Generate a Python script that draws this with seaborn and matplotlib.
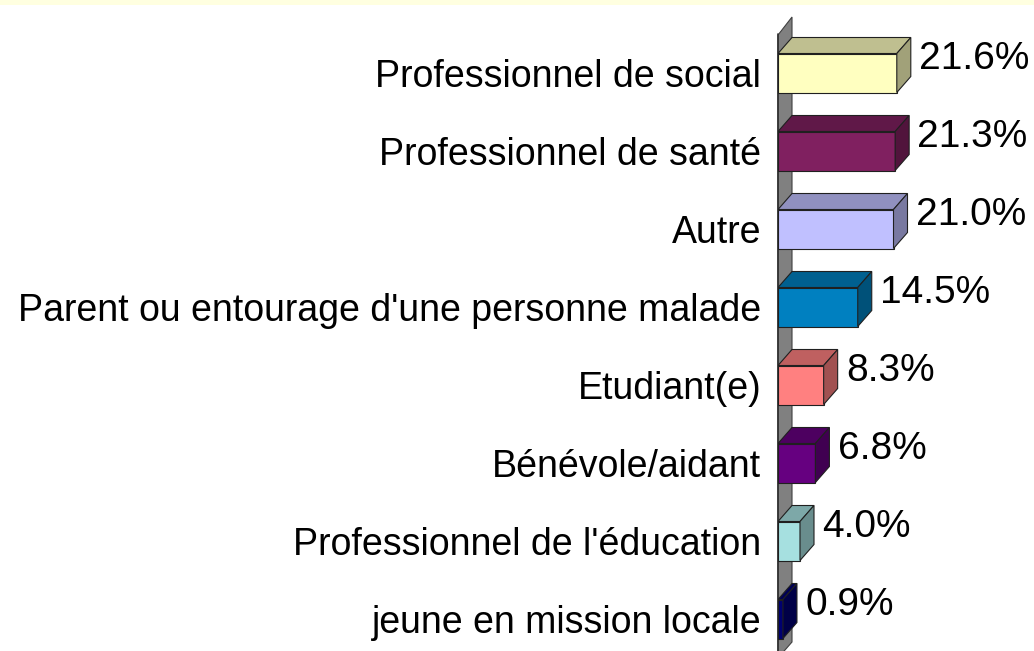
import matplotlib
matplotlib.use("Agg")
import matplotlib.pyplot as plt
from matplotlib.patches import Polygon, Rectangle
from matplotlib.colors import to_rgb
import seaborn as sns
import pandas as pd

categories = [
    "Professionnel de social",
    "Professionnel de santé",
    "Autre",
    "Parent ou entourage d'une personne malade",
    "Etudiant(e)",
    "Bénévole/aidant",
    "Professionnel de l'éducation",
    "jeune en mission locale",
]
values = [21.6, 21.3, 21.0, 14.5, 8.3, 6.8, 4.0, 0.9]
value_labels = ["21.6%", "21.3%", "21.0%", "14.5%", "8.3%", "6.8%", "4.0%", "0.9%"]
colors = ["#FFFFC0", "#802060", "#C0C0FF", "#0080C0",
          "#FF8080", "#660080", "#A6E0E0", "#000070"]

df = pd.DataFrame({"cat": categories, "val": values})

sns.set_theme(style="white")
plt.rcParams["font.family"] = ["Liberation Sans", "DejaVu Sans"]

W, H = 1034, 651
fig = plt.figure(figsize=(W / 100, H / 100), dpi=100)
fig.patch.set_facecolor("white")
# light yellow band at top
fig.add_artist(Rectangle((0, 1 - 5 / H), 1, 5 / H, transform=fig.transFigure,
                         facecolor="#FFFFE0", edgecolor="none"))

px_per_unit = 5.5
xmax = 46
ax = fig.add_axes([778 / W, 0, xmax * px_per_unit / W, 1])
ax.set_facecolor("none")

sns.barplot(data=df, y="cat", x="val", hue="cat", palette=colors, legend=False,
            orient="h", width=0.5, ax=ax, edgecolor="#202020", linewidth=0.8,
            saturation=1)

row_px = 78
ax.set_xlim(0, xmax)
ax.set_ylim((651 - 73) / row_px, -73 / row_px)

dx = 14 / px_per_unit
dy = 16 / row_px
n = len(categories)

# left wall
wall = Polygon([(0, -0.5 + 0.013), (dx, -0.5 + 0.013 - 18 / row_px),
                (dx, n - 0.5 - dy), (0, n - 0.5)],
               closed=True, facecolor="#808080", edgecolor="#404040",
               linewidth=0.8, zorder=0.5, clip_on=False)
ax.add_patch(wall)
ax.plot([0, 0], [-0.5, n - 0.5], color="#303030", lw=1.2, zorder=0.6, clip_on=False)

def shade(c, f):
    r, g, b = to_rgb(c)
    return (r * f, g * f, b * f)

for i, p in enumerate(list(ax.patches)):
    if p is wall:
        continue
    x0 = p.get_x()
    w = p.get_width()
    y0 = p.get_y()
    h = p.get_height()
    top = min(y0, y0 + h)
    bot = max(y0, y0 + h)
    x1 = x0 + w
    col = p.get_facecolor()
    p.set_zorder(3)
    top_face = Polygon([(x0, top), (x1, top), (x1 + dx, top - dy), (x0 + dx, top - dy)],
                       closed=True, facecolor=shade(col, 0.75), edgecolor="#202020",
                       linewidth=0.8, zorder=3)
    side_face = Polygon([(x1, top), (x1 + dx, top - dy), (x1 + dx, bot - dy), (x1, bot)],
                        closed=True, facecolor=shade(col, 0.63), edgecolor="#202020",
                        linewidth=0.8, zorder=3)
    ax.add_patch(top_face)
    ax.add_patch(side_face)

for i, (v, lab) in enumerate(zip(values, value_labels)):
    ax.text(v + dx + 1.5, i - dy + 0.02, lab, ha="left", va="center",
            fontsize=28, color="black", clip_on=False)

ax.set_xlabel("")
ax.set_ylabel("")
ax.set_xticks([])
ax.tick_params(axis="y", length=0, pad=12, labelsize=27)
for lbl in ax.get_yticklabels():
    lbl.set_color("black")
for s in ax.spines.values():
    s.set_visible(False)

fig.savefig("out.png", dpi=100, facecolor=fig.get_facecolor())
